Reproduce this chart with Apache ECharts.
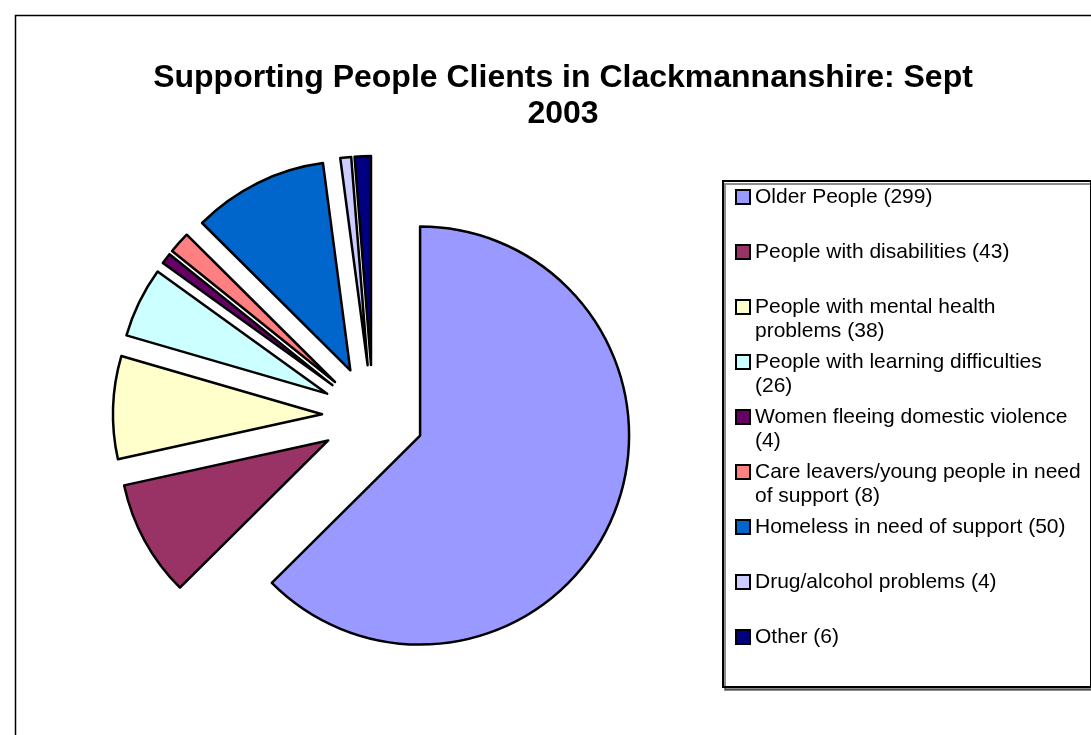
<!DOCTYPE html>
<html><head><meta charset="utf-8">
<script src="https://cdn.jsdelivr.net/npm/echarts@6/dist/echarts.min.js"></script>
<style>html,body{margin:0;padding:0;background:#fff}#c{width:1091px;height:735px}</style>
</head><body><div id="c"></div>
<script>
const categories = ['Older People','People with disabilities','People with mental health problems','People with learning difficulties','Women fleeing domestic violence','Care leavers/young people in need of support','Homeless in need of support','Drug/alcohol problems','Other'];
const values = [299, 43, 38, 26, 4, 8, 50, 4, 6];
const colors = ['#9999FF','#993366','#FFFFCC','#CCFFFF','#660066','#FF8080','#0066CC','#CCCCFF','#000080'];
// legend text lines (as wrapped in the original legend)
const legendLines = [
  ['Older People (299)'],
  ['People with disabilities (43)'],
  ['People with mental health', 'problems (38)'],
  ['People with learning difficulties', '(26)'],
  ['Women fleeing domestic violence', '(4)'],
  ['Care leavers/young people in need', 'of support (8)'],
  ['Homeless in need of support (50)'],
  ['Drug/alcohol problems (4)'],
  ['Other (6)']
];
const titleText = 'Supporting People Clients in Clackmannanshire: Sept\n2003';

const FONT = '"Liberation Sans", Arial, sans-serif';
const rich = {
  t: {fontFamily: FONT, fontSize: 21, color: '#000', lineHeight: 24},
  sp: {width: 18, height: 12, lineHeight: 24}
};
colors.forEach((c, i) => {
  rich['b' + i] = {width: 12, height: 12, backgroundColor: c, borderColor: '#000', borderWidth: 2, lineHeight: 24};
});
rich.gap = {width: 6, lineHeight: 24};

const chart = echarts.init(document.getElementById('c'), null, {renderer: 'canvas'});
chart.setOption({
  animation: false,
  backgroundColor: '#fff',
  title: {
    text: titleText,
    left: 558, top: 55, textAlign: 'center',
    textStyle: {fontFamily: FONT, fontSize: 32, fontWeight: 'bold', color: '#000', lineHeight: 36}
  },
  graphic: [
    {type: 'rect', shape: {x: 15.5, y: 15.5, width: 1100, height: 760}, style: {fill: 'none', stroke: '#000', lineWidth: 1.5}, silent: true},
    {type: 'rect', shape: {x: 723, y: 181, width: 368, height: 506}, style: {fill: '#fff', stroke: '#000', lineWidth: 2, shadowColor: 'rgba(0,0,0,0.45)', shadowOffsetX: 2, shadowOffsetY: 3, shadowBlur: 0}, silent: true, z: -1}
  ],
  legend: {
    orient: 'vertical',
    left: 732, top: 185,
    padding: 0,
    itemGap: 7,
    icon: 'none',
    itemWidth: 0, itemHeight: 12,
    selectedMode: false,
    data: categories,
    formatter: function (name) {
      const i = categories.indexOf(name);
      const l = legendLines[i];
      return '{b' + i + '|}{gap|}{t|' + l[0] + '}\n{sp|}{t|' + (l[1] || ' ') + '}';
    },
    textStyle: {rich: rich, fontFamily: FONT, fontSize: 21, lineHeight: 24}
  },
  series: [{
    type: 'pie',
    center: [373, 416],
    radius: [0, 209],
    startAngle: 90,
    clockwise: true,
    selectedMode: 'multiple',
    selectedOffset: 51,
    label: {show: false},
    labelLine: {show: false},
    emphasis: {disabled: true, scale: false},
    itemStyle: {borderColor: '#000', borderWidth: 2.5},
    data: categories.map((n, i) => ({name: n, value: values[i], selected: true, itemStyle: {color: colors[i]}}))
  }]
});
</script></body></html>
